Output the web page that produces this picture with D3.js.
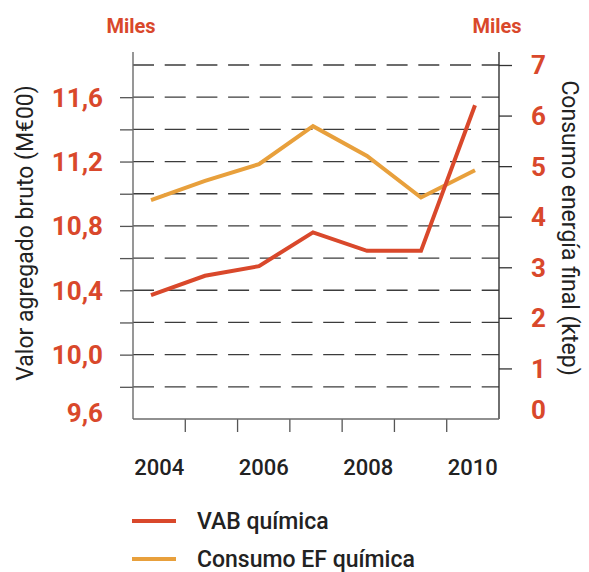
<!DOCTYPE html>
<html>
<head>
<meta charset="utf-8">
<script src="https://cdn.jsdelivr.net/npm/d3@7"></script>
<style>
  body { margin: 0; background: #fff; }
  svg text { font-family: Roboto, "Noto Sans", sans-serif; }
</style>
</head>
<body>
<div id="chart"></div>
<script>
// data
const years = [2004, 2005, 2006, 2007, 2008, 2009, 2010];
const vab = [10.37, 10.49, 10.55, 10.76, 10.645, 10.645, 11.55];   // left axis
const consumo = [4.33, 4.71, 5.04, 5.79, 5.2, 4.38, 4.92];          // right axis
const leftLabels = [9.6, 10.0, 10.4, 10.8, 11.2, 11.6];
const leftTicks = [9.8, 10.0, 10.2, 10.4, 10.6, 10.8, 11.0, 11.2, 11.4, 11.6];
const gridValues = [9.8, 10.0, 10.2, 10.4, 10.6, 10.8, 11.0, 11.2, 11.4, 11.6, 11.8];
const rightLabels = [0, 1, 2, 3, 4, 5, 6, 7];
const yearLabels = [2004, 2006, 2008, 2010];

const width = 589;
const height = 572;
const red = "#d9482b";
const orange = "#e8a03c";

const svg = d3.select("#chart")
    .append("svg")
    .attr("width", width)
    .attr("height", height);

const plotLeft = 133, plotRight = 499, plotBottom = 419, plotTop = 65;

const yL = d3.scaleLinear().domain([9.6, 11.8]).range([plotBottom, plotTop]);
const yR = d3.scaleLinear().domain([0, 7]).range([plotBottom, plotTop]);
const xBand = d3.scaleBand().domain(years).range([plotLeft, plotRight]);
const xPt = d3.scalePoint().domain(years).range([151, 475]);

// dashed gridlines
svg.append("g")
    .selectAll("line")
    .data(gridValues)
    .enter().append("line")
    .attr("x1", plotLeft)
    .attr("x2", plotRight)
    .attr("y1", d => yL(d))
    .attr("y2", d => yL(d))
    .attr("stroke", "#3c3c3c")
    .attr("stroke-width", 1.3)
    .attr("stroke-dasharray", "21,10.7");

// left axis ticks (no labels, drawn separately)
svg.append("g")
    .attr("transform", `translate(${plotLeft},0)`)
    .call(d3.axisLeft(yL).tickValues(leftTicks).tickSize(13).tickFormat(""))
    .call(g => g.select(".domain").remove())
    .call(g => g.selectAll("line").attr("stroke", "#555").attr("stroke-width", 1.3));

// right axis ticks
svg.append("g")
    .attr("transform", `translate(${plotRight},0)`)
    .call(d3.axisRight(yR).tickValues(rightLabels.slice(1)).tickSize(13).tickFormat(""))
    .call(g => g.select(".domain").remove())
    .call(g => g.selectAll("line").attr("stroke", "#333").attr("stroke-width", 1.3));

// bottom axis ticks at band boundaries
svg.append("g")
    .attr("transform", `translate(0,${plotBottom})`)
    .selectAll("line")
    .data(years.slice(1))
    .enter().append("line")
    .attr("x1", d => xBand(d))
    .attr("x2", d => xBand(d))
    .attr("y1", 0)
    .attr("y2", 13)
    .attr("stroke", "#555")
    .attr("stroke-width", 1.3);

// frame lines
svg.append("line").attr("x1", plotLeft).attr("x2", plotLeft).attr("y1", 52).attr("y2", plotBottom)
    .attr("stroke", "#6b6b6b").attr("stroke-width", 1.4);
svg.append("line").attr("x1", plotRight).attr("x2", plotRight).attr("y1", 52).attr("y2", plotBottom)
    .attr("stroke", "#333").attr("stroke-width", 1.4);
svg.append("line").attr("x1", plotLeft).attr("x2", plotRight).attr("y1", plotBottom).attr("y2", plotBottom)
    .attr("stroke", "#6b6b6b").attr("stroke-width", 1.4);

// left tick labels
svg.append("g")
    .selectAll("text")
    .data(leftLabels)
    .enter().append("text")
    .attr("x", 103)
    .attr("y", d => d === 9.6 ? yL(d) - 6 : yL(d))
    .attr("dy", "0.36em")
    .attr("text-anchor", "end")
    .attr("fill", red)
    .attr("font-size", 26)
    .attr("font-weight", 700)
    .text(d => d3.format(".1f")(d).replace(".", ","));

// right tick labels
svg.append("g")
    .selectAll("text")
    .data(rightLabels)
    .enter().append("text")
    .attr("x", 531)
    .attr("y", d => d === 0 ? yR(d) - 9 : yR(d))
    .attr("dy", "0.36em")
    .attr("fill", red)
    .attr("font-size", 26)
    .attr("font-weight", 700)
    .text(d => d);

// year labels
svg.append("g")
    .selectAll("text")
    .data(yearLabels)
    .enter().append("text")
    .attr("x", d => xBand(d) + xBand.bandwidth() / 2)
    .attr("y", 475)
    .attr("text-anchor", "middle")
    .attr("fill", "#222")
    .attr("font-size", 22)
    .attr("font-weight", 500)
    .text(d => d);

// "Miles" units
[plotLeft, plotRight].forEach(x => {
    svg.append("text")
        .attr("x", x - 2)
        .attr("y", 33)
        .attr("text-anchor", "middle")
        .attr("fill", red)
        .attr("font-size", 20)
        .attr("font-weight", 700)
        .text("Miles");
});

// axis titles
svg.append("text")
    .attr("transform", "translate(33,233) rotate(-90)")
    .attr("text-anchor", "middle")
    .attr("fill", "#222")
    .attr("font-size", 23)
    .text("Valor agregado bruto (M€00)");

svg.append("text")
    .attr("transform", "translate(562,228) rotate(90)")
    .attr("text-anchor", "middle")
    .attr("fill", "#222")
    .attr("font-size", 23)
    .text("Consumo energía final (ktep)");

// lines
const lineL = d3.line().x((d, i) => xPt(years[i])).y(d => yL(d));
const lineR = d3.line().x((d, i) => xPt(years[i])).y(d => yR(d));

svg.append("path")
    .datum(consumo)
    .attr("d", lineR)
    .attr("fill", "none")
    .attr("stroke", orange)
    .attr("stroke-width", 4);

svg.append("path")
    .datum(vab)
    .attr("d", lineL)
    .attr("fill", "none")
    .attr("stroke", red)
    .attr("stroke-width", 4);

// legend
const legend = [
    { name: "VAB química", color: red },
    { name: "Consumo EF química", color: orange }
];
const leg = svg.append("g")
    .selectAll("g")
    .data(legend)
    .enter().append("g")
    .attr("transform", (d, i) => `translate(132,${521 + i * 38})`);
leg.append("line")
    .attr("x1", 0).attr("x2", 44)
    .attr("stroke", d => d.color)
    .attr("stroke-width", 4);
leg.append("text")
    .attr("x", 65)
    .attr("y", 8)
    .attr("fill", "#222")
    .attr("font-size", 23)
    .attr("font-weight", 500)
    .text(d => d.name);
</script>
</body>
</html>
